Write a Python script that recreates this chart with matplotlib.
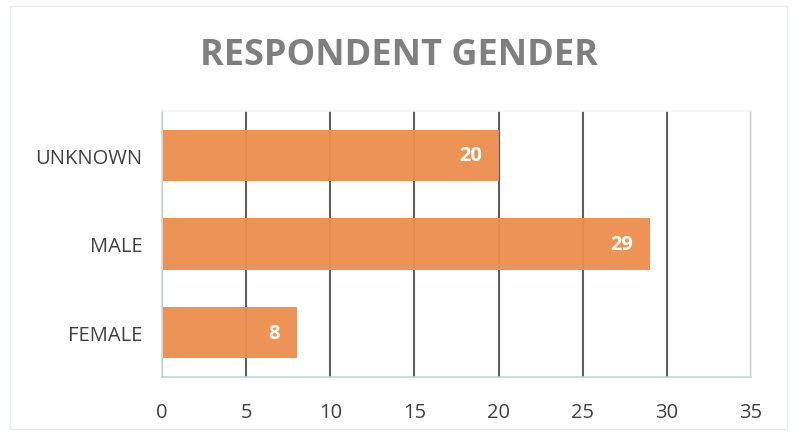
import matplotlib
matplotlib.use('Agg')
import matplotlib.pyplot as plt
from matplotlib.patches import Rectangle

categories = ['FEMALE', 'MALE', 'UNKNOWN']
counts = [8, 29, 20]
xticks = [0, 5, 10, 15, 20, 25, 30, 35]

plt.rcParams['font.family'] = ['Open Sans', 'DejaVu Sans']

fig = plt.figure(figsize=(7.98, 4.35), dpi=100)
# outer chart border
fig.patches.append(Rectangle((10/798, 5/435), 777/798, 423/435, transform=fig.transFigure,
                             fill=False, edgecolor='#E6ECF4', linewidth=1))

ax = fig.add_axes([162/798, 1 - 378/435, (751 - 162)/798, (378 - 112)/435])

ax.set_xlim(0, 35)
ax.set_ylim(-0.5, 2.5)
ax.set_xticks(xticks)
ax.set_axisbelow(True)
ax.grid(axis='x', color='#5E5E5E', linewidth=1.5)
ax.grid(axis='y', visible=False)

bars = ax.barh(categories, counts, height=0.58, color='#ED8D4C', alpha=0.95)
for b, v in zip(bars, counts):
    ax.text(b.get_width() - 1.0, b.get_y() + b.get_height()/2, str(v),
            ha='right', va='center', color='white', fontsize=14.5, fontweight='bold')

ax.spines['top'].set_color('#F6F2F2')
ax.spines['right'].set_color('#ECE6EE')
ax.spines['right'].set_linestyle((0, (1, 1)))
ax.spines['bottom'].set_color('#C5D2E4')
ax.spines['left'].set_color('#D5DEEA')
for s in ax.spines.values():
    s.set_linewidth(1.2)

ax.tick_params(axis='both', length=0, labelsize=14.5, colors='#404040')
ax.tick_params(axis='y', pad=14)
ax.tick_params(axis='x', pad=18)

fig.text(0.5, 1 - 56/435, 'RESPONDENT GENDER', ha='center', va='center',
         fontsize=26, fontweight='bold', color='#7F7F7F')

fig.savefig('out.png', dpi=100)
